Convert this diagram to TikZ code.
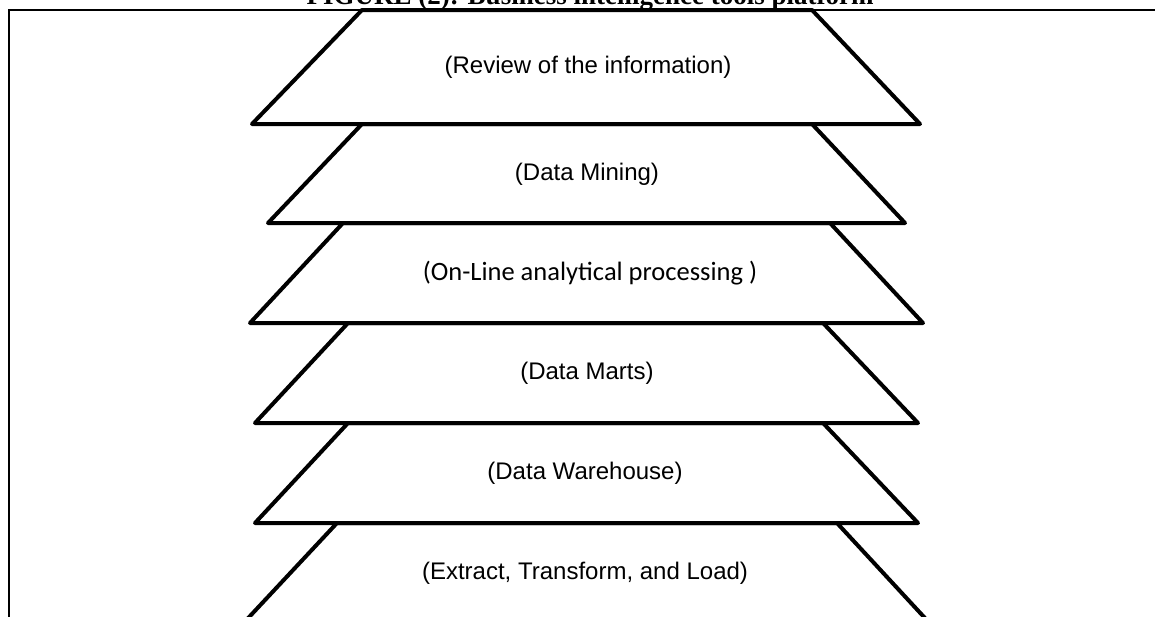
\documentclass[tikz,border=0pt]{standalone}
\usepackage{fontspec}
\setmainfont{Liberation Serif}
\newfontfamily\arialf{Liberation Sans}
\newfontfamily\calibrif{Carlito}
\begin{document}
\begin{tikzpicture}[x=1pt,y=-1pt,
  layer/.style={line width=4pt,line join=round,line cap=round},
  frame/.style={line width=2pt},
  lbl/.style={font=\arialf\fontsize{24}{28}\selectfont,inner sep=0pt},
  lblc/.style={font=\calibrif\fontsize{26.5}{30}\selectfont,inner sep=0pt},
  ttl/.style={font=\bfseries\fontsize{27}{30}\selectfont,inner sep=0pt,anchor=base}]
\useasboundingbox (0,0) rectangle (1155,616);
\clip (0,0) rectangle (1155,616);
\fill[white] (0,0) rectangle (1155,616);
% title (cut off at top)
\node[ttl] (title) at (590,4) {FIGURE (2): Business intelligence tools platform};
% frame
\coordinate (fbl) at (9,620);
\coordinate (ftl) at (9,10);
\coordinate (ftr) at (1160,10);
\draw[frame] (fbl) -- (ftl) -- (ftr);
% layers
\draw[layer] (362,10) -- (812,10) -- (920,124) -- (252,124) -- cycle;
\draw[layer] (362,124) -- (812,124) -- (905,223) -- (268,223) -- cycle;
\draw[layer] (343,223) -- (830,223) -- (923,323) -- (250,323) -- cycle;
\draw[layer] (348,323) -- (823,323) -- (918,423) -- (255,423) -- cycle;
\draw[layer] (348,423) -- (823,423) -- (918,523) -- (255,523) -- cycle;
\draw[layer] (237,630) -- (337,523) -- (837,523) -- (936,630);
% labels
\node[lbl] (review) at (588,67) {(Review of the information)};
\node[lbl] (mining) at (587,174) {(Data Mining)};
\node[lblc] (olap) at (590,273) {(On-Line analytical processing )};
\node[lbl] (marts) at (587,373) {(Data Marts)};
\node[lbl] (dw) at (585,473) {(Data Warehouse)};
\node[lbl] (etl) at (585,573) {(Extract, Transform, and Load)};
\end{tikzpicture}
\end{document}
